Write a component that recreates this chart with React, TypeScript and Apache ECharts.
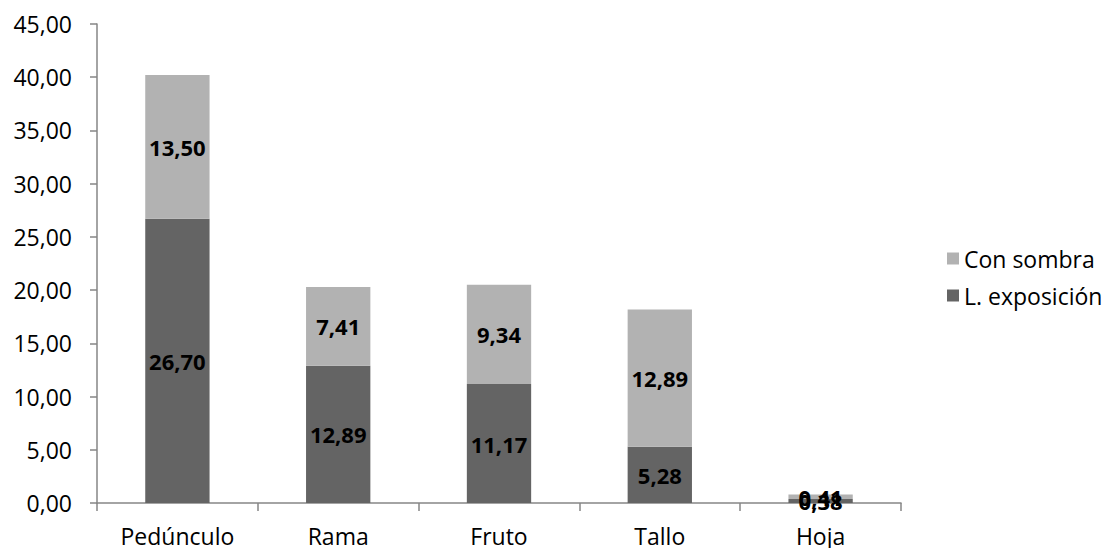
import React, { useEffect, useRef } from "react";
import * as echarts from "echarts";

const categories = ["Pedúnculo", "Rama", "Fruto", "Tallo", "Hoja"];
const exposicion = [26.7, 12.89, 11.17, 5.28, 0.38];
const sombra = [13.5, 7.41, 9.34, 12.89, 0.41];

const fmt = (v: number) => v.toFixed(2).replace(".", ",");

export default function App() {
  const ref = useRef<HTMLDivElement>(null);
  useEffect(() => {
    if (!ref.current) return;
    const chart = echarts.init(ref.current, null, { renderer: "svg" });
    const font = "'Open Sans', 'Liberation Sans', sans-serif";
    const label = {
      show: true,
      position: "inside" as const,
      color: "#000",
      fontWeight: "bold" as const,
      fontSize: 22,
      fontFamily: font,
      formatter: (p: any) => fmt(p.value),
    };
    chart.setOption({
      animation: false,
      backgroundColor: "#fff",
      grid: {
        left: 97,
        right: 205,
        top: 24,
        bottom: 45,
        containLabel: false,
        outerBoundsMode: "none",
      },
      legend: {
        orient: "vertical",
        left: 942,
        top: 242,
        itemWidth: 12,
        itemHeight: 12,
        itemGap: 14,
        icon: "rect",
        textStyle: { fontSize: 23, fontFamily: font, color: "#000" },
        data: ["Con sombra", "L. exposición"],
      },
      xAxis: {
        type: "category",
        data: categories,
        axisLine: { lineStyle: { color: "#868686", width: 1.5 } },
        axisTick: { show: true, length: 8, lineStyle: { color: "#868686", width: 1.5 } },
        axisLabel: { fontSize: 23, fontFamily: font, color: "#000", margin: 21 },
      },
      yAxis: {
        type: "value",
        min: 0,
        max: 45,
        interval: 5,
        axisLine: { show: true, lineStyle: { color: "#868686", width: 1.5 } },
        axisTick: { show: true, length: 7, lineStyle: { color: "#868686", width: 1.5 } },
        splitLine: { show: false },
        axisLabel: {
          fontSize: 23,
          fontFamily: font,
          color: "#000",
          margin: 25,
          formatter: (v: number) => fmt(v),
        },
      },
      series: [
        {
          name: "L. exposición",
          type: "bar",
          stack: "a",
          data: exposicion,
          barWidth: "40%",
          itemStyle: { color: "#646464" },
          label,
        },
        {
          name: "Con sombra",
          type: "bar",
          stack: "a",
          data: sombra,
          barWidth: "40%",
          itemStyle: { color: "#b2b2b2" },
          label,
        },
      ],
    });
    return () => chart.dispose();
  }, []);
  return (
    <div
      ref={ref}
      style={{ position: "absolute", left: 0, top: 0, width: 1106, height: 548 }}
    />
  );
}
